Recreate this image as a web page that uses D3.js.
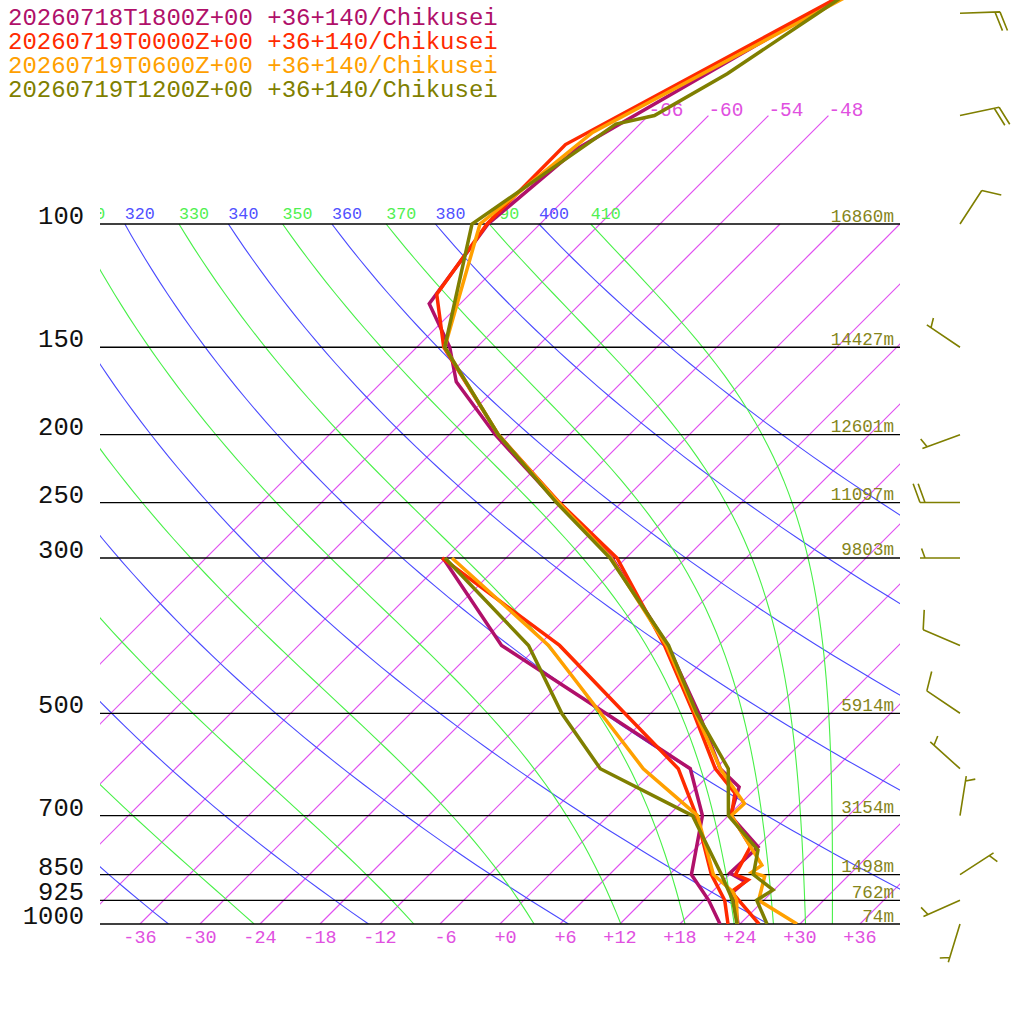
<!DOCTYPE html>
<html>
<head>
<meta charset="utf-8">
<script src="https://cdn.jsdelivr.net/npm/d3@7"></script>
<style>
  body { margin: 0; background: #fff; }
  text { font-family: "Liberation Mono", "DejaVu Sans Mono", monospace; }
  .isotherm { stroke: #e050f0; stroke-width: 1.2px; fill: none; }
  .dry { stroke: #4a4aff; stroke-width: 1.1px; fill: none; }
  .moist { stroke: #48f048; stroke-width: 1.1px; fill: none; }
</style>
</head>
<body>
<svg id="chart" width="1024" height="1024"></svg>
<script>
// ---- legend / runs ----
const runLabels = [
    "20260718T1800Z+00 +36+140/Chikusei",
    "20260719T0000Z+00 +36+140/Chikusei",
    "20260719T0600Z+00 +36+140/Chikusei",
    "20260719T1200Z+00 +36+140/Chikusei"
];
const runColors = ["#b0106a", "#ff2a00", "#ffa000", "#7f7f00"];

// ---- 18Z ----
const t18P = [1000, 899, 870, 846, 776, 700, 637, 600, 500, 400, 300, 250, 200, 168, 150, 130, 100, 78, 50, 30];
const t18T = [23.8, 20.1, 20.3, 17.9, 18.1, 12.2, 10.2, 6.5, -1.2, -11.1, -25.4, -36.4, -49.4, -58.6, -62.7, -69.1, -71.2, -69.8, -59.9, -49.1];
const d18P = [1000, 925, 850, 700, 600, 500, 400, 300];
const d18T = [22.0, 18.5, 14.2, 9.4, 3.5, -10.5, -27.7, -42.3];

// ---- 00Z ----
const t00P = [1000, 899, 865, 850, 775, 700, 650, 600, 500, 400, 300, 250, 200, 150, 126, 100, 77, 50, 30];
const t00T = [25.9, 19.9, 20.4, 18.6, 17.3, 12.3, 10.4, 6.0, -1.7, -11.4, -24.9, -36.2, -49.1, -63.3, -69.3, -71.3, -71.4, -60.2, -46.9];
const d00P = [1000, 925, 850, 700, 600, 500, 400, 300];
const d00T = [22.8, 20.1, 16.2, 8.8, 2.3, -8.6, -21.9, -42.4];

// ---- 06Z ----
const t06P = [1000, 925, 855, 844, 824, 700, 673, 600, 500, 400, 300, 250, 200, 150, 100, 74, 50, 30];
const t06T = [29.7, 23.5, 21.7, 20.0, 20.3, 12.3, 12.4, 6.5, -1.5, -11.2, -25.5, -36.3, -49.1, -63.2, -72.0, -69.9, -59.5, -46.2];
const d06P = [1000, 925, 900, 850, 700, 600, 500, 400, 300];
const d06T = [23.7, 21.3, 20.1, 16.4, 8.9, -1.2, -11.0, -23.0, -41.4];

// ---- 12Z ----
const t12P = [1000, 925, 894, 850, 784, 700, 600, 500, 400, 300, 250, 200, 150, 100, 72, 70, 61, 50, 30];
const t12T = [26.7, 23.3, 23.9, 20.4, 18.4, 12.0, 7.3, -1.4, -11.0, -25.6, -36.5, -49.1, -63.2, -72.8, -68.4, -65.4, -62.3, -59.3, -51.7];
const d12P = [1000, 925, 850, 700, 600, 500, 400, 300];
const d12T = [23.7, 20.9, 17.2, 8.4, -5.5, -14.9, -25.0, -42.1];

// ---- reference lines ----
const isobars = [1000, 925, 850, 700, 500, 300, 250, 200, 150, 100];
const isobarHeights = ["74m", "762m", "1498m", "3154m", "5914m", "9803m", "11097m", "12601m", "14427m", "16860m"];
const isotherms = [-66, -60, -54, -48, -42, -36, -30, -24, -18, -12, -6, 0, 6, 12, 18, 24, 30, 36];
const labelledIsotherms = [-66, -60, -54, -48];
const tempTicks = [-36, -30, -24, -18, -12, -6, 0, 6, 12, 18, 24, 30, 36];
const dryThetas = [240, 260, 280, 300, 320, 340, 360, 380, 400];
const moistThetas = [250, 270, 290, 310, 330, 350, 370, 390, 410];

// ---- winds ----
const windP = [50, 70, 100, 150, 200, 250, 300, 400, 500, 600, 700, 850, 925, 1000];
const windDir = [88, 78, 33, 304, 250, 270, 270, 293, 304, 312, 9, 57, 246, 197];
const windKt = [20, 20, 10, 5, 5, 20, 5, 10, 10, 5, 5, 5, 5, 5];

// ---- layout ----
const plotLeft = 100, plotRight = 900;
const y = d3.scaleLog().domain([1000, 100]).range([924, 224]);
const xT = d3.scaleLinear().domain([-40, 40]).range([plotLeft, plotRight]);
const skewX = (t, p) => xT(t) + (y(1000) - y(p));

const svg = d3.select("#chart");
const defs = svg.append("defs");
defs.append("clipPath").attr("id", "plot")
    .append("rect").attr("x", plotLeft).attr("y", -200).attr("width", plotRight - plotLeft).attr("height", 1124);

const line = d3.line().x(d => skewX(d.t, d.p)).y(d => y(d.p));
const grid = svg.append("g").attr("clip-path", "url(#plot)");

// isotherms
isotherms.forEach(t => {
    const top = labelledIsotherms.includes(t) ? 70 : 100;
    grid.append("path")
        .attr("class", "isotherm")
        .attr("d", line([{ t, p: 1000 }, { t, p: top }]));
});

// dry adiabats
const logLevels = d3.range(0, 61).map(i => 1000 * Math.pow(0.1, i / 60));
dryThetas.forEach(th => {
    const pts = logLevels.map(p => ({ p, t: th * Math.pow(p / 1000, 0.286) - 273.15 }));
    grid.append("path").attr("class", "dry").attr("d", line(pts));
});

// pseudo-adiabats from theta-e (Bolton)
function thetaE(T, p) {
    const tc = T - 273.15;
    const es = 6.112 * Math.exp(17.67 * tc / (tc + 243.5));
    if (es > 0.5 * p) return 1e9;
    const r = 622 * es / (p - es);
    return T * Math.pow(1000 / p, 0.2854 * (1 - 0.00028 * r)) *
        Math.exp((3.376 / T - 0.00254) * r * (1 + 0.00081 * r));
}
function solveT(te, p) {
    let lo = 120, hi = 340;
    for (let i = 0; i < 50; i++) {
        const mid = (lo + hi) / 2;
        if (thetaE(mid, p) > te) hi = mid; else lo = mid;
    }
    return (lo + hi) / 2 - 273.15;
}
moistThetas.forEach(te => {
    const pts = logLevels.map(p => ({ p, t: solveT(te, p) }));
    grid.append("path").attr("class", "moist").attr("d", line(pts));
});

// adiabat labels at 100 hPa (only those reaching into the plot)
const thetaLabels = dryThetas.map(v => ({ v, t: v * Math.pow(0.1, 0.286) - 273.15, c: "#5050ff" }))
    .concat(moistThetas.map(v => ({ v, t: solveT(v, 100), c: "#50f050" })))
    .filter(d => skewX(d.t, 100) > 65);
grid.selectAll("text.theta").data(thetaLabels).join("text")
    .attr("class", "theta")
    .attr("x", d => skewX(d.t, 100)).attr("y", y(100) - 5.5)
    .attr("fill", d => d.c).attr("font-size", 16.7)
    .text(d => d.v);

// isotherm labels at top
svg.selectAll("text.iso").data(labelledIsotherms).join("text")
    .attr("class", "iso")
    .attr("x", d => skewX(d, 70)).attr("y", y(70))
    .attr("fill", "#e050e0").attr("font-size", 19.4)
    .text(d => (d < 0 ? "-" : "+") + Math.abs(d));

// isobars
svg.selectAll("line.isobar").data(isobars).join("line")
    .attr("class", "isobar")
    .attr("x1", plotLeft).attr("x2", plotRight)
    .attr("y1", d => y(d)).attr("y2", d => y(d))
    .attr("stroke", "#000").attr("stroke-width", 1.3);

svg.selectAll("text.plab").data(isobars).join("text")
    .attr("class", "plab")
    .attr("x", 84).attr("y", d => y(d))
    .attr("text-anchor", "end").attr("font-size", 25.5).attr("fill", "#111")
    .text(d => d);

svg.selectAll("text.hlab").data(isobars).join("text")
    .attr("class", "hlab")
    .attr("x", 894).attr("y", d => y(d) - 2.5)
    .attr("text-anchor", "end").attr("font-size", 17.6).attr("fill", "#85851a")
    .text((d, i) => isobarHeights[i]);

// temperature axis labels
svg.selectAll("text.tlab").data(tempTicks).join("text")
    .attr("class", "tlab")
    .attr("x", d => xT(d) + 16.6).attr("y", 943)
    .attr("text-anchor", "end").attr("font-size", 18.5).attr("fill", "#e050e0")
    .text(d => (d < 0 ? "-" : "+") + Math.abs(d));

// profiles
const profiles = [
    [t18P, t18T, d18P, d18T],
    [t00P, t00T, d00P, d00T],
    [t06P, t06T, d06P, d06T],
    [t12P, t12T, d12P, d12T]
];
const prof = svg.append("g").attr("clip-path", "url(#plot)");
profiles.forEach(([tp, tt, dp, dt], i) => {
    [[dp, dt], [tp, tt]].forEach(([ps, ts]) => {
        prof.append("path")
            .attr("d", line(ps.map((p, k) => ({ p, t: ts[k] }))))
            .attr("stroke", runColors[i]).attr("stroke-width", 3.5)
            .attr("fill", "none").attr("stroke-linejoin", "miter");
    });
});

// legend
svg.selectAll("text.leg").data(runLabels).join("text")
    .attr("class", "leg")
    .attr("x", 8).attr("y", (d, i) => 25 + i * 24)
    .attr("font-size", 24).attr("fill", (d, i) => runColors[i])
    .text(d => d);

// wind barbs
const barbX = 960, staff = 40, step = 5, rot = 70 * Math.PI / 180;
const barbs = svg.append("g").attr("stroke", "#7f7f00").attr("stroke-width", 1.6).attr("fill", "none");
windP.forEach((p, i) => {
    const a = windDir[i] * Math.PI / 180;
    const ux = Math.sin(a), uy = -Math.cos(a);
    const x0 = barbX, y0 = y(p);
    const ex = x0 + ux * staff, ey = y0 + uy * staff;
    const tx = ux * Math.cos(rot) - uy * Math.sin(rot);
    const ty = ux * Math.sin(rot) + uy * Math.cos(rot);
    let d = `M${x0},${y0}L${ex},${ey}`;
    const full = Math.floor(windKt[i] / 10);
    const half = windKt[i] % 10 >= 5;
    let k = 0;
    for (; k < full; k++) {
        const bx = ex - ux * step * k, by = ey - uy * step * k;
        d += `M${bx},${by}l${tx * 20},${ty * 20}`;
    }
    if (half) {
        if (k === 0) k = 1;
        const bx = ex - ux * step * k, by = ey - uy * step * k;
        d += `M${bx},${by}l${tx * 10},${ty * 10}`;
    }
    barbs.append("path").attr("d", d);
});
</script>
</body>
</html>
